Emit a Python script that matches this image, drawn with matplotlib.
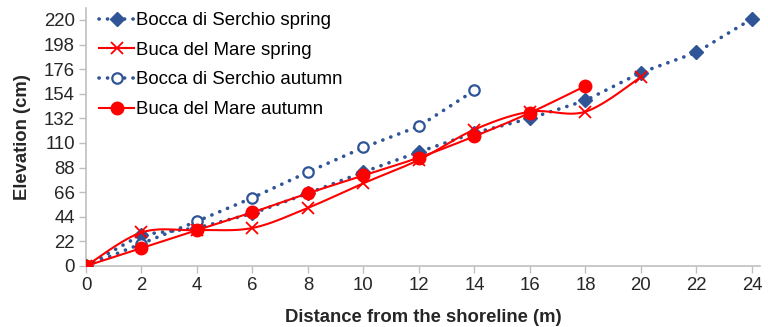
import numpy as np
import matplotlib.pyplot as plt

plt.rcParams['font.family'] = ['Liberation Sans', 'DejaVu Sans']

# distance from shoreline (m)
x_bocca_spring = [0, 2, 4, 6, 8, 10, 12, 14, 16, 18, 20, 22, 24]
y_bocca_spring = [0, 28, 34, 47, 65, 84, 102, 119, 132, 148, 173, 191, 221]

x_buca_spring = [0, 2, 4, 6, 8, 10, 12, 14, 16, 18, 20]
y_buca_spring = [0, 30, 32, 34, 52, 74, 95, 122, 138, 138, 169]

x_bocca_autumn = [0, 2, 4, 6, 8, 10, 12, 14]
y_bocca_autumn = [0, 20, 40, 61, 84, 106, 125, 157]

x_buca_autumn = [0, 2, 4, 6, 8, 10, 12, 14, 16, 18]
y_buca_autumn = [0, 16, 32, 48, 65, 81, 97, 116, 137, 161]

x_ticks = np.arange(0, 25, 2)
y_ticks = np.arange(0, 221, 22)

blue = '#2F5597'
red = '#FF0000'


def smooth(xs, ys, n=20):
    # catmull-rom style curve, like excel's "smoothed line"
    xs = np.asarray(xs, float)
    ys = np.asarray(ys, float)
    px = np.concatenate([[xs[0]], xs, [xs[-1]]])
    py = np.concatenate([[ys[0]], ys, [ys[-1]]])
    ox, oy = [], []
    t = np.linspace(0, 1, n)
    for i in range(1, len(px) - 2):
        for p, out in ((px, ox), (py, oy)):
            p0, p1, p2, p3 = p[i - 1], p[i], p[i + 1], p[i + 2]
            m1 = (p2 - p0) / 6
            m2 = (p3 - p1) / 6
            c1 = p1 + m1
            c2 = p2 - m2
            out.extend((1 - t) ** 3 * p1 + 3 * (1 - t) ** 2 * t * c1
                       + 3 * (1 - t) * t ** 2 * c2 + t ** 3 * p2)
    return ox, oy


fig = plt.figure(figsize=(7.68, 3.27), dpi=100)
ax = fig.add_axes([86 / 768, 61 / 327, 674 / 768, 258 / 327])

dots = (0, (0.05, 2.3))
ax.plot(x_bocca_spring, y_bocca_spring, color=blue, lw=2.6, ls=dots,
        dash_capstyle='round', marker='D', ms=7, mfc=blue, mec=blue,
        label='Bocca di Serchio spring', zorder=3)

sx, sy = smooth(x_buca_spring, y_buca_spring)
ax.plot(sx, sy, color=red, lw=1.5, zorder=4)
ax.plot(x_buca_spring, y_buca_spring, ls='none', marker='x', ms=9, mew=1.3,
        color=red, zorder=4)
ax.plot([], [], color=red, lw=1.5, marker='x', ms=9, mew=1.3,
        label='Buca del Mare spring')

ax.plot(x_bocca_autumn, y_bocca_autumn, color=blue, lw=2.6, ls=dots,
        dash_capstyle='round', marker='o', ms=7.5, mfc='white', mec=blue,
        mew=1.6, label='Bocca di Serchio autumn', zorder=3)

sx, sy = smooth(x_buca_autumn, y_buca_autumn)
ax.plot(sx, sy, color=red, lw=1.5, zorder=5)
ax.plot(x_buca_autumn, y_buca_autumn, ls='none', marker='o', ms=9,
        color=red, zorder=5)
ax.plot([], [], color=red, lw=1.5, marker='o', ms=9,
        label='Buca del Mare autumn')

ax.set_xlim(0, 24.29)
ax.set_ylim(0, 230.7)
ax.set_xticks(x_ticks)
ax.set_yticks(y_ticks)

for s in ['top', 'right']:
    ax.spines[s].set_visible(False)
for s in ['left', 'bottom']:
    ax.spines[s].set_color('#BFBFBF')
    ax.spines[s].set_linewidth(1.2)
ax.tick_params(axis='both', colors='#BFBFBF', labelcolor='#262626',
               labelsize=13.4, length=5, width=1)
ax.tick_params(axis='x', pad=3)
ax.tick_params(axis='y', pad=3)

ax.set_xlabel('Distance from the shoreline (m)', fontsize=13.3,
              fontweight='bold', color='#262626', labelpad=11)
ax.set_ylabel('Elevation (cm)', fontsize=13.3, fontweight='bold',
              color='#262626', labelpad=9)

ax.legend(loc='upper left', bbox_to_anchor=(0.0, 1.035), frameon=False,
          fontsize=13.4, handlelength=1.9, handletextpad=0.1,
          labelspacing=0.68, borderaxespad=0.3)

fig.savefig('out.png', dpi=100)
